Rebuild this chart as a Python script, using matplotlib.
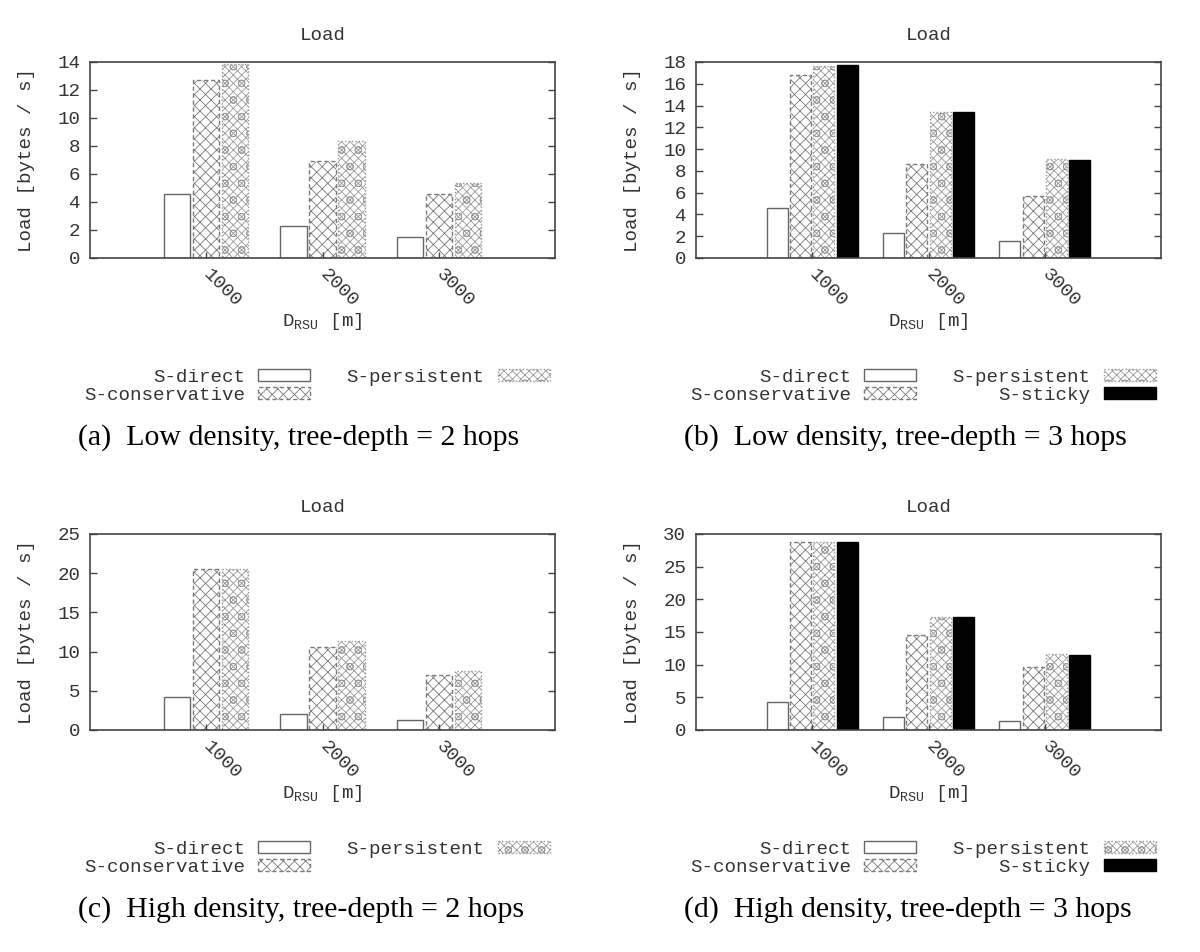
import matplotlib
matplotlib.use('Agg')
import matplotlib.pyplot as plt
import numpy as np

plt.rcParams['font.family'] = ['Liberation Mono', 'DejaVu Sans Mono']
plt.rcParams['mathtext.fontset'] = 'custom'
plt.rcParams['mathtext.rm'] = 'Liberation Mono'
plt.rcParams['hatch.linewidth'] = 0.6

# data
distances = ['1000', '2000', '3000']

a_direct = [4.55, 2.29, 1.50]
a_conservative = [12.7, 6.93, 4.57]
a_persistent = [13.85, 8.37, 5.36]

b_direct = [4.56, 2.30, 1.56]
b_conservative = [16.8, 8.62, 5.72]
b_persistent = [17.65, 13.43, 9.08]
b_sticky = [17.7, 13.43, 9.0]

c_direct = [4.2, 2.08, 1.32]
c_conservative = [20.55, 10.53, 6.96]
c_persistent = [20.55, 11.29, 7.47]

d_direct = [4.23, 2.04, 1.38]
d_conservative = [28.83, 14.47, 9.58]
d_persistent = [28.83, 17.22, 11.56]
d_sticky = [28.75, 17.27, 11.46]

names = ['S-direct', 'S-conservative', 'S-persistent', 'S-sticky']
captions = ['(a)  Low density, tree-depth = 2 hops',
            '(b)  Low density, tree-depth = 3 hops',
            '(c)  High density, tree-depth = 2 hops',
            '(d)  High density, tree-depth = 3 hops']
ymax = [14, 18, 25, 30]
ystep = [2, 2, 5, 5]

# gnuplot-ish bar styles
styles = [
    dict(facecolor='white', edgecolor='#666666', hatch=None, linestyle='-'),
    dict(facecolor='white', edgecolor='#7a7a7a', hatch='xxx', linestyle=(0, (3, 2))),
    dict(facecolor='white', edgecolor='#999999', hatch='xxxxo', linestyle=(0, (1, 1.5))),
    dict(facecolor='black', edgecolor='black', hatch=None, linestyle='-'),
]

panels = [
    [a_direct, a_conservative, a_persistent],
    [b_direct, b_conservative, b_persistent, b_sticky],
    [c_direct, c_conservative, c_persistent],
    [d_direct, d_conservative, d_persistent, d_sticky],
]

W, H = 1200, 952
fig = plt.figure(figsize=(W / 100, H / 100), dpi=100)

fs = 13.8
txt = '#333333'
lefts = [90, 696, 90, 696]
tops = [62, 62, 534, 534]
ax_w, ax_h = 465, 196

for k, series in enumerate(panels):
    L, T = lefts[k], tops[k]
    ax = fig.add_axes([L / W, 1 - (T + ax_h) / H, ax_w / W, ax_h / H])
    n = len(series)
    slot = 1.0 / (n + 1)
    x = np.arange(len(distances))
    handles = []
    for i, vals in enumerate(series):
        off = (i - (n - 1) / 2) * slot
        st = styles[i]
        h = ax.bar(x + off, vals, width=0.9 * slot, facecolor=st['facecolor'],
                   edgecolor=st['edgecolor'], hatch=st['hatch'],
                   linestyle=st['linestyle'], linewidth=1.0, label=names[i])
        handles.append(h)

    ax.set_xlim(-1, 3)
    ax.set_ylim(0, ymax[k])
    ax.set_yticks(np.arange(0, ymax[k] + 1, ystep[k]))
    ax.set_xticks(x)
    # gnuplot "rotate by -45": text pivots round its left-middle point
    ax.set_xticklabels(distances, rotation=-45, ha='left', va='center',
                       rotation_mode='anchor')
    ax.tick_params(axis='y', direction='in', right=True, length=5, width=1,
                   labelsize=fs, labelcolor=txt, color='#444444', pad=7)
    ax.tick_params(axis='x', direction='in', length=4, width=1,
                   labelsize=fs, labelcolor=txt, color='#444444', pad=10)
    for sp in ax.spines.values():
        sp.set_color('#444444')
        sp.set_linewidth(1.2)

    ax.set_title('Load', fontsize=fs, color=txt, pad=16)
    ax.set_ylabel('Load [bytes / s]', fontsize=fs, color=txt, labelpad=16)
    ax.set_xlabel(r'D$_{\mathrm{RSU}}$ [m]', fontsize=fs, color=txt)
    ax.xaxis.set_label_coords(0.5, -0.27)

    # legend, two columns, labels right-aligned before the key box
    lx = L - 6
    ly = T + 307
    fig.legend(handles=handles, loc='upper left',
               bbox_to_anchor=(lx / W, 1 - ly / H), ncol=2, frameon=False,
               markerfirst=False, fontsize=fs, labelcolor=txt,
               handlelength=2.7, handleheight=0.55, handletextpad=0.7,
               columnspacing=1.9, labelspacing=0.05, borderpad=0,
               borderaxespad=0)

    fig.text((L - 12) / W, 1 - (T + 376) / H, captions[k], fontsize=21.5,
             family='Liberation Serif', va='center', ha='left', color='black')

fig.savefig('out.png', dpi=100)
